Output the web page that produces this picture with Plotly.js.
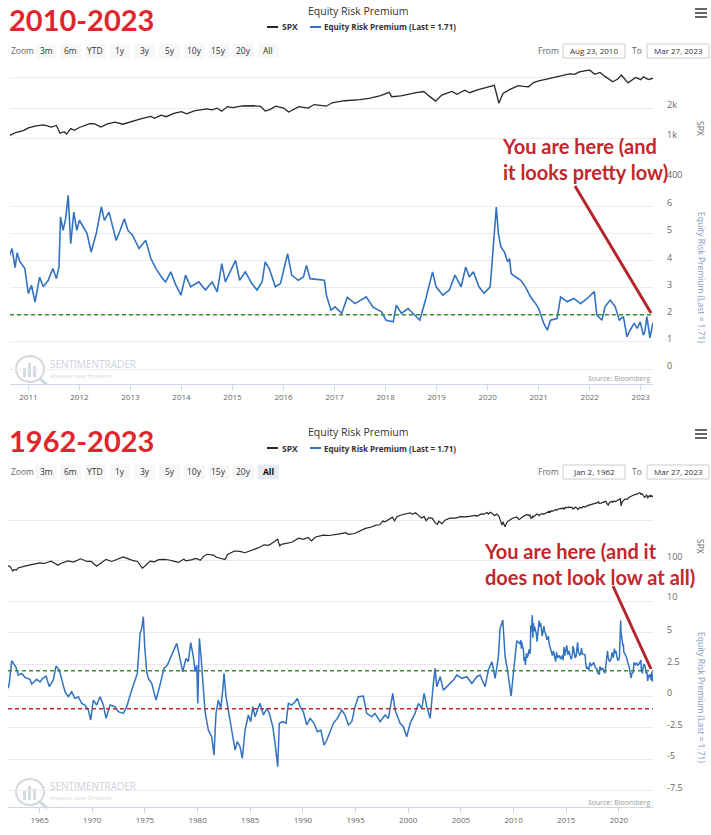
<!DOCTYPE html>
<html>
<head>
<meta charset="utf-8">
<script src="https://cdn.plot.ly/plotly-3.0.1.min.js"></script>
<style>
  html, body { margin: 0; padding: 0; background: #ffffff; }
  #chart { width: 711px; height: 835px; }
</style>
</head>
<body>
<div id="chart"></div>
<script>
// ---- Equity risk premium, decimal year -> value (%) ----
const erpYear = [
  1962.00, 1962.12, 1962.35, 1962.57, 1962.76, 1962.98, 1963.30, 1963.61, 1964.09, 1964.25,
  1964.73, 1965.04, 1965.30, 1965.61, 1965.92, 1966.30, 1966.56, 1966.87, 1967.10, 1967.41,
  1967.73, 1968.05, 1968.36, 1968.68, 1969.00, 1969.31, 1969.63, 1969.85, 1970.10, 1970.42,
  1970.74, 1971.05, 1971.31, 1971.69, 1972.16, 1972.47, 1972.95, 1973.27, 1973.75, 1974.06,
  1974.28, 1974.54, 1974.70, 1974.85, 1974.98, 1975.17, 1975.32, 1975.65, 1976.06, 1976.43,
  1976.81, 1977.13, 1977.55, 1978.02, 1978.33, 1978.59, 1978.90, 1979.12, 1979.35, 1979.60,
  1979.76, 1979.92, 1980.02, 1980.17, 1980.33, 1980.55, 1980.71, 1981.02, 1981.34, 1981.56,
  1981.75, 1981.97, 1982.20, 1982.39, 1982.51, 1982.70, 1982.92, 1983.24, 1983.56, 1983.78,
  1984.03, 1984.25, 1984.51, 1984.82, 1985.05, 1985.24, 1985.46, 1985.68, 1985.93, 1986.25,
  1986.57, 1986.81, 1987.14, 1987.36, 1987.61, 1987.76, 1988.09, 1988.40, 1988.62, 1988.94,
  1989.26, 1989.47, 1989.73, 1990.04, 1990.37, 1990.68, 1991.06, 1991.37, 1991.70, 1992.01,
  1992.27, 1992.58, 1992.89, 1993.27, 1993.69, 1994.00, 1994.32, 1994.64, 1994.95, 1995.27,
  1995.74, 1996.06, 1996.54, 1996.85, 1997.33, 1997.80, 1998.12, 1998.53, 1998.75, 1999.23,
  1999.54, 1999.86, 2000.18, 2000.65, 2000.97, 2001.29, 2001.51, 2001.76, 2002.08, 2002.39,
  2002.55, 2002.71, 2003.03, 2003.34, 2003.82, 2004.29, 2004.61, 2005.09, 2005.56, 2006.04,
  2006.51, 2006.82, 2007.30, 2007.61, 2007.94, 2008.25, 2008.56, 2008.72, 2008.98, 2009.20,
  2009.42, 2009.61, 2009.77, 2009.99, 2010.31, 2010.62,
  2010.68, 2010.74, 2010.78, 2010.83, 2010.93, 2011.00, 2011.06, 2011.13, 2011.22, 2011.29,
  2011.39, 2011.48, 2011.55, 2011.60, 2011.63, 2011.68, 2011.73, 2011.78, 2011.83, 2011.89,
  2011.95, 2012.00, 2012.07, 2012.15, 2012.23, 2012.33, 2012.43, 2012.49, 2012.58, 2012.65,
  2012.72, 2012.80, 2012.88, 2012.95, 2013.04, 2013.17, 2013.30, 2013.40, 2013.50, 2013.63,
  2013.69, 2013.79, 2013.89, 2013.99, 2014.08, 2014.18, 2014.34, 2014.47, 2014.60, 2014.70,
  2014.79, 2014.86, 2014.99, 2015.06, 2015.14, 2015.25, 2015.38, 2015.48, 2015.58, 2015.64,
  2015.72, 2015.84, 2015.94, 2016.02, 2016.08, 2016.16, 2016.29, 2016.39, 2016.45, 2016.52,
  2016.68, 2016.80, 2016.84, 2016.93, 2017.01, 2017.14, 2017.25, 2017.40, 2017.62, 2017.75,
  2017.92, 2018.01, 2018.15, 2018.21, 2018.31, 2018.44, 2018.57, 2018.67, 2018.79, 2018.92,
  2018.99, 2019.12, 2019.25, 2019.36, 2019.48, 2019.57, 2019.64, 2019.72, 2019.83, 2019.93,
  2020.05, 2020.09, 2020.14, 2020.17, 2020.21, 2020.26, 2020.33, 2020.39, 2020.43, 2020.46,
  2020.55, 2020.65, 2020.74, 2020.84, 2020.94, 2021.00, 2021.10, 2021.17, 2021.23, 2021.36,
  2021.43, 2021.56, 2021.69, 2021.82, 2021.95, 2022.09, 2022.14, 2022.24, 2022.30, 2022.40,
  2022.50, 2022.58, 2022.66, 2022.73, 2022.79, 2022.87, 2022.93, 2022.99, 2023.05, 2023.08,
  2023.12, 2023.18, 2023.24
];
const erpValue = [
  0.61, 0.99, 2.80, 2.45, 2.27, 1.66, 1.79, 1.48, 1.32, 0.95,
  1.32, 1.11, 1.40, 1.58, 0.74, 1.27, 2.37, 2.06, 1.40, 0.34,
  -0.05, 0.34, -0.19, -0.05, -0.58, -0.71, -1.11, -1.90, -0.32, -0.71,
  -0.05, -0.71, -1.77, -0.71, -0.84, -1.24, -1.37, -0.84, 0.47, 1.27,
  1.79, 4.96, 5.35, 6.28, 3.90, 1.92, 1.40, 0.99, -0.32, 0.87,
  2.19, 2.45, 3.24, 4.17, 2.98, 1.92, 2.98, 2.72, 4.22, 3.11,
  1.92, 2.45, -0.58, 4.56, 3.11, 0.21, -1.24, -2.69, -3.22, -4.67,
  -1.37, -0.32, -0.97, 0.47, 1.79, -0.05, -1.11, -2.95, -4.27, -3.61,
  -4.01, -4.93, -2.69, -1.50, -2.03, -0.84, -1.64, -1.11, -0.58, -1.50,
  -0.97, -1.37, -2.43, -3.75, -5.59, -2.16, -2.03, -2.16, -0.58, -0.71,
  -0.45, -0.19, -0.84, -1.24, -2.29, -1.77, -2.16, -2.82, -2.69, -3.88,
  -3.48, -2.82, -2.16, -1.77, -1.11, -1.50, -2.29, -2.03, -0.84, -0.05,
  0.00, -1.37, -1.64, -1.37, -2.03, -1.50, -1.77, 0.21, -1.11, -2.16,
  -2.43, -3.22, -2.16, -1.37, -0.58, -0.97, 0.21, -0.84, -1.77, 1.00,
  2.19, 0.74, 1.53, 0.47, 0.87, 1.27, 1.66, 1.40, 1.53, 1.00,
  1.53, 1.66, 0.74, 2.06, 2.72, 1.40, 3.11, 5.35, 6.01, 3.11,
  2.06, 0.74, 0.00, 1.85, 4.38, 4.12,
  4.44, 3.74, 4.28, 3.97, 3.70, 2.78, 3.09, 2.47, 3.39, 3.03,
  3.27, 3.70, 3.33, 3.76, 5.60, 5.11, 5.54, 6.40, 4.62, 5.78,
  5.11, 5.48, 5.23, 4.99, 4.31, 4.99, 5.97, 5.48, 5.78, 5.23,
  4.74, 5.11, 5.54, 5.11, 4.93, 4.44, 4.74, 4.07, 3.70, 3.33,
  3.21, 3.58, 3.09, 2.72, 3.46, 3.03, 3.21, 2.91, 3.21, 2.84,
  3.88, 3.21, 3.76, 4.00, 3.27, 3.58, 3.15, 2.91, 3.21, 3.95,
  3.70, 3.03, 3.15, 3.82, 4.25, 3.46, 3.27, 3.39, 3.82, 3.33,
  3.30, 3.27, 2.72, 2.17, 2.29, 2.05, 2.64, 2.41, 2.66, 2.29,
  2.11, 1.80, 1.74, 2.35, 2.05, 2.23, 1.99, 1.80, 2.60, 3.58,
  3.03, 2.72, 2.91, 3.46, 3.03, 3.76, 3.39, 3.58, 3.03, 2.79,
  3.03, 4.01, 5.05, 5.97, 4.99, 4.50, 4.31, 3.95, 4.07, 3.52,
  3.39, 3.27, 3.03, 2.66, 2.41, 2.23, 1.68, 1.43, 1.80, 1.86,
  2.66, 2.48, 2.60, 2.41, 2.60, 2.85, 1.99, 1.80, 2.29, 2.54,
  2.29, 1.80, 1.93, 1.19, 1.43, 1.68, 1.50, 1.74, 1.25, 1.37,
  1.93, 1.15, 1.71
];

// ---- S&P 500 index level, decimal year -> price ----
const spxYear = [
  1962.00, 1962.20, 1962.45, 1962.60, 1962.80, 1962.95, 1963.50, 1963.90, 1964.50, 1965.00,
  1965.45, 1965.90, 1966.10, 1966.75, 1967.00, 1967.70, 1968.20, 1968.90, 1969.50, 1969.90,
  1970.40, 1970.90, 1971.30, 1971.85, 1972.50, 1972.95, 1973.50, 1973.90, 1974.30, 1974.75,
  1974.95, 1975.50, 1975.90, 1976.30, 1976.80, 1977.30, 1977.90, 1978.20, 1978.70, 1978.85,
  1979.50, 1979.80, 1979.95, 1980.25, 1980.60, 1980.90, 1981.50, 1981.80, 1982.60, 1982.85,
  1983.50, 1984.00, 1984.50, 1984.90, 1985.50, 1985.95, 1986.30, 1986.70, 1987.00, 1987.60,
  1987.80, 1987.95, 1988.50, 1988.95, 1989.60, 1989.80, 1990.05, 1990.50, 1990.80, 1991.20,
  1991.95, 1992.50, 1992.95, 1993.50, 1994.05, 1994.30, 1994.90, 1995.50, 1995.95, 1996.50,
  1996.95, 1997.30, 1997.60, 1997.80, 1998.00, 1998.50, 1998.70, 1998.95, 1999.50, 1999.95,
  2000.20, 2000.40, 2000.70, 2000.95, 2001.25, 2001.50, 2001.70, 2001.95, 2002.30, 2002.55,
  2002.78, 2002.90, 2003.20, 2003.50, 2003.95, 2004.50, 2004.95, 2005.50, 2005.95, 2006.40,
  2006.50, 2006.95, 2007.20, 2007.50, 2007.60, 2007.78, 2007.95, 2008.20, 2008.40, 2008.60,
  2008.80, 2008.90, 2009.00, 2009.18, 2009.40, 2009.60, 2009.90, 2010.30, 2010.50, 2010.64,
  2010.75, 2010.90, 2011.00, 2011.15, 2011.30, 2011.45, 2011.55, 2011.62, 2011.70, 2011.75,
  2011.83, 2011.90, 2012.00, 2012.20, 2012.30, 2012.42, 2012.55, 2012.70, 2012.85, 2013.00,
  2013.20, 2013.40, 2013.47, 2013.60, 2013.70, 2013.85, 2014.00, 2014.10, 2014.25, 2014.50,
  2014.60, 2014.70, 2014.79, 2014.90, 2015.00, 2015.20, 2015.40, 2015.55, 2015.64, 2015.72,
  2015.85, 2016.00, 2016.10, 2016.30, 2016.48, 2016.60, 2016.84, 2016.95, 2017.20, 2017.50,
  2017.70, 2017.90, 2018.07, 2018.12, 2018.30, 2018.60, 2018.75, 2018.85, 2018.98, 2019.10,
  2019.30, 2019.40, 2019.55, 2019.65, 2019.80, 2020.00, 2020.13, 2020.22, 2020.30, 2020.45,
  2020.60, 2020.70, 2020.80, 2020.90, 2021.00, 2021.20, 2021.40, 2021.60, 2021.70, 2021.80,
  2021.95, 2022.00, 2022.10, 2022.20, 2022.30, 2022.45, 2022.55, 2022.62, 2022.75, 2022.90,
  2023.00, 2023.05, 2023.15, 2023.24
];
const spxValue = [
  71, 69, 53, 58, 56, 63, 69, 73, 82, 85,
  82, 92, 93, 74, 82, 95, 89, 107, 92, 92,
  70, 87, 104, 92, 108, 119, 105, 96, 92, 63,
  69, 94, 90, 102, 104, 100, 91, 87, 106, 95,
  102, 110, 107, 98, 125, 139, 132, 117, 103, 138,
  168, 165, 152, 164, 190, 211, 240, 232, 255, 330,
  225, 247, 270, 278, 350, 340, 330, 365, 300, 375,
  417, 410, 435, 450, 480, 440, 460, 550, 615, 670,
  745, 760, 940, 900, 980, 1180, 960, 1230, 1370, 1470,
  1510, 1380, 1520, 1320, 1120, 1230, 965, 1150, 1100, 850,
  777, 930, 810, 990, 1110, 1110, 1210, 1200, 1260, 1300,
  1240, 1420, 1400, 1540, 1410, 1565, 1470, 1280, 1410, 1260,
  900, 750, 900, 677, 900, 1000, 1110, 1200, 1030, 1070,
  1140, 1190, 1270, 1330, 1360, 1290, 1340, 1120, 1160, 1100,
  1250, 1200, 1280, 1400, 1390, 1290, 1390, 1450, 1380, 1460,
  1560, 1650, 1580, 1700, 1640, 1770, 1840, 1750, 1880, 1960,
  1920, 2000, 1860, 2070, 2020, 2100, 2110, 2080, 1870, 1920,
  2090, 2000, 1830, 2070, 2000, 2170, 2090, 2260, 2370, 2430,
  2520, 2670, 2870, 2600, 2650, 2850, 2930, 2650, 2350, 2700,
  2940, 2750, 3020, 2850, 3050, 3250, 3380, 2240, 2800, 3100,
  3350, 3300, 3270, 3600, 3750, 3950, 4200, 4400, 4350, 4600,
  4770, 4790, 4350, 4550, 4150, 3670, 3900, 4280, 3580, 4050,
  3850, 4100, 3860, 3977
];

// ---- reference levels (dashed) ----
const currentLevel = 2.0;   // green dashed
const lowLevel = -1.0;      // red dashed

// ---- axis ticks ----
const topYearTicks = [2011, 2012, 2013, 2014, 2015, 2016, 2017, 2018, 2019, 2020, 2021, 2022, 2023];
const bottomYearTicks = [1965, 1970, 1975, 1980, 1985, 1990, 1995, 2000, 2005, 2010, 2015, 2020];
const spxTopTicks = [400, 1000, 2000, 4000];
const spxTopLabels = ['400', '1k', '2k', ''];
const erpTopTicks = [0, 1, 2, 3, 4, 5, 6, 7];
const erpTopLabels = ['0', '1', '2', '3', '4', '5', '6', ''];
const spxBottomTicks = [10, 100, 1000, 10000];
const spxBottomLabels = ['10', '100', '', ''];
const erpBottomTicks = [-7.5, -5, -2.5, 0, 2.5, 5, 7.5];
const erpBottomLabels = ['-7.5', '-5', '-2.5', '0', '2.5', '5', ''];

// ---- texts ----
const rangeButtons = ['3m', '6m', 'YTD', '1y', '3y', '5y', '10y', '15y', '20y', 'All'];
const chartTitle = 'Equity Risk Premium';
const erpName = 'Equity Risk Premium (Last = 1.71)';
const panels = [
  { heading: '2010-2023', from: 'Aug 23, 2010', to: 'Mar 27, 2023', selected: -1,
    note: 'You are here (and<br>it looks pretty low)' },
  { heading: '1962-2023', from: 'Jan 2, 1962', to: 'Mar 27, 2023', selected: 9,
    note: 'You are here (and it<br>does not look low at all)' }
];

// ---- page geometry helpers (pixels -> paper) ----
const W = 711, H = 835;
const px = v => v / W;
const py = v => 1 - v / H;

const SPX_COLOR = '#262626';
const ERP_COLOR = '#3273c1';
const GRID = '#ebebeb';
const AXIS_LINE = '#ccd6eb';
const LABEL = '#666666';
const FONT = 'Open Sans, Noto Sans, sans-serif';

const traces = [
  { x: spxYear, y: spxValue, xaxis: 'x', yaxis: 'y', type: 'scatter', mode: 'lines',
    line: { color: SPX_COLOR, width: 1.3 }, name: 'SPX' },
  { x: erpYear, y: erpValue, xaxis: 'x', yaxis: 'y2', type: 'scatter', mode: 'lines',
    line: { color: ERP_COLOR, width: 1.6 }, name: erpName },
  { x: spxYear, y: spxValue, xaxis: 'x2', yaxis: 'y3', type: 'scatter', mode: 'lines',
    line: { color: SPX_COLOR, width: 1.2 }, name: 'SPX' },
  { x: erpYear, y: erpValue, xaxis: 'x2', yaxis: 'y4', type: 'scatter', mode: 'lines',
    line: { color: ERP_COLOR, width: 1.5 }, name: erpName }
];

function xAxis(domainPx, range, ticks, anchor) {
  return {
    domain: [px(domainPx[0]), px(domainPx[1])], range: range, anchor: anchor,
    tickmode: 'array', tickvals: ticks, ticktext: ticks.map(String),
    showgrid: false, zeroline: false, showline: true, linecolor: AXIS_LINE, linewidth: 1,
    ticks: 'outside', ticklen: 5, tickcolor: AXIS_LINE, tickwidth: 1,
    tickfont: { family: FONT, size: 8, color: LABEL }, fixedrange: true
  };
}
function yAxis(domainPx, range, ticks, labels, anchor, isLog) {
  return {
    domain: [py(domainPx[1]), py(domainPx[0])], range: range, anchor: anchor,
    type: isLog ? 'log' : 'linear', side: 'right',
    tickmode: 'array', tickvals: ticks, ticktext: labels,
    showgrid: true, gridcolor: GRID, gridwidth: 1, zeroline: false, showline: false,
    ticks: '', ticklabelstandoff: 13, ticklabelshift: -3,
    tickfont: { family: FONT, size: 9, color: LABEL }, fixedrange: true
  };
}

const shapes = [];
const annotations = [];

function text(t, x, y, opts) {
  annotations.push(Object.assign({
    xref: 'paper', yref: 'paper', x: px(x), y: py(y), text: t, showarrow: false,
    xanchor: 'center', yanchor: 'middle', borderpad: 0,
    font: { family: FONT, size: 9, color: LABEL }
  }, opts || {}));
}
function rect(x0, y0, x1, y1, fill, stroke) {
  shapes.push({ type: 'rect', xref: 'paper', yref: 'paper', x0: px(x0), x1: px(x1), y0: py(y1), y1: py(y0),
    fillcolor: fill, line: { color: stroke || 'rgba(0,0,0,0)', width: stroke ? 1 : 0 }, layer: 'below' });
}
function seg(x0, y0, x1, y1, color, width, dash) {
  shapes.push({ type: 'line', xref: 'paper', yref: 'paper', x0: px(x0), x1: px(x1), y0: py(y0), y1: py(y1),
    line: { color: color, width: width, dash: dash || 'solid' } });
}

// header block of each chart: heading, title, legend, range selector, date inputs, menu
panels.forEach((p, i) => {
  const o = i === 0 ? 0 : 421;  // vertical offset of the second chart
  text(p.heading, 8, 19 + o, { xanchor: 'left', font: { family: 'Lato, Open Sans, sans-serif', size: 29, color: '#e0262d', weight: 700 } });
  text(chartTitle, 358, 11 + o, { font: { family: FONT, size: 10.5, color: '#333333' } });
  seg(267, 27 + o, 278, 27 + o, SPX_COLOR, 2);
  text('SPX', 281, 27 + o, { xanchor: 'left', font: { family: FONT, size: 8.5, color: '#333333', weight: 700 } });
  seg(310, 27 + o, 321, 27 + o, ERP_COLOR, 2);
  text(erpName, 323, 27 + o, { xanchor: 'left', font: { family: FONT, size: 8, color: '#333333', weight: 700 } });
  text('Zoom', 10, 51 + o, { xanchor: 'left', font: { family: FONT, size: 8.5, color: LABEL } });
  rangeButtons.forEach((b, k) => {
    const cx = 46 + k * 24.7;
    const sel = k === p.selected;
    rect(cx - 10.5, 43.5 + o, cx + 10.5, 58.5 + o, sel ? '#e6ebf5' : '#f7f7f7');
    text(b, cx, 51 + o, { font: { family: FONT, size: 8.5, color: sel ? '#000000' : '#333333', weight: sel ? 700 : 400 } });
  });
  text('From', 548, 51 + o, { font: { family: FONT, size: 8.5, color: LABEL } });
  rect(563, 44 + o, 625, 58 + o, '#ffffff', '#cccccc');
  text(p.from, 594, 51 + o, { font: { family: FONT, size: 8, color: '#333333' } });
  text('To', 637, 51 + o, { font: { family: FONT, size: 8.5, color: LABEL } });
  rect(647, 44 + o, 709, 58 + o, '#ffffff', '#cccccc');
  text(p.to, 678, 51 + o, { font: { family: FONT, size: 8, color: '#333333' } });
  [9, 13, 17].forEach(yy => seg(695, yy + o, 707, yy + o, '#666666', 2));
});

// axis titles (read top to bottom)
text('SPX', 701, 128, { textangle: 90, font: { family: FONT, size: 8.5, color: LABEL } });
text(erpName, 702, 277, { textangle: 90, font: { family: FONT, size: 8.5, color: '#7f9cc2' } });
text('SPX', 701, 546, { textangle: 90, font: { family: FONT, size: 8.5, color: LABEL } });
text(erpName, 702, 697, { textangle: 90, font: { family: FONT, size: 8.5, color: '#7f9cc2' } });

// watermark and source credit
[[369, 364, 376, 378], [792, 786, 798, 802]].forEach(([cy, t1, t2, src]) => {
  shapes.push({ type: 'circle', xref: 'paper', yref: 'paper', x0: px(16), x1: px(44), y0: py(cy + 13), y1: py(cy - 13),
    line: { color: '#d3d8df', width: 2 }, layer: 'below' });
  rect(23, cy - 1, 26, cy + 8, '#d6dbe2');
  rect(28, cy - 6, 31, cy + 8, '#d6dbe2');
  rect(33, cy - 3, 36, cy + 8, '#d6dbe2');
  seg(39, cy + 9, 47, cy + 16, '#d3d8df', 3);
  text('SENTIMENTRADER', 49, t1, { xanchor: 'left', font: { family: FONT, size: 10, color: '#cdd2d9' } });
  text('Analysis over Emotion', 49, t2, { xanchor: 'left', font: { family: FONT, size: 6, color: '#d3d8df' } });
  text('Source: Bloomberg', 651, src, { xanchor: 'right', font: { family: FONT, size: 7, color: '#999999' } });
});

// reference levels
shapes.push({ type: 'line', xref: 'x domain', yref: 'y2', x0: 0, x1: 1, y0: currentLevel, y1: currentLevel,
  line: { color: '#3c8c34', width: 1.4, dash: '4px,3px' } });
shapes.push({ type: 'line', xref: 'x2 domain', yref: 'y4', x0: 0, x1: 1, y0: currentLevel, y1: currentLevel,
  line: { color: '#3c8c34', width: 1.4, dash: '4px,3px' } });
shapes.push({ type: 'line', xref: 'x2 domain', yref: 'y4', x0: 0, x1: 1, y0: lowLevel, y1: lowLevel,
  line: { color: '#c0282d', width: 1.4, dash: '4px,3px' } });

// callouts
const NOTE_FONT = { family: 'Lato, Open Sans, sans-serif', size: 20, color: '#c1272d', weight: 700 };
text(panels[0].note, 501, 159, { xanchor: 'left', align: 'left', font: NOTE_FONT });
text(panels[1].note, 483, 564, { xanchor: 'left', align: 'left', font: NOTE_FONT });
seg(575, 186, 651, 313, '#b5262c', 3);
seg(613, 586, 651, 669, '#b5262c', 3);

const layout = {
  width: W, height: H,
  margin: { l: 0, r: 0, t: 0, b: 0, pad: 0 },
  paper_bgcolor: '#ffffff', plot_bgcolor: 'rgba(0,0,0,0)',
  showlegend: false,
  font: { family: FONT },
  xaxis: xAxis([10, 653], [2010.64, 2023.24], topYearTicks, 'y2'),
  yaxis: yAxis([65, 178], [Math.log10(400), 3.732], spxTopTicks, spxTopLabels, 'x', true),
  yaxis2: yAxis([179, 384], [-0.55, 7.0], erpTopTicks, erpTopLabels, 'x', false),
  xaxis2: xAxis([8, 653], [1962.0, 2023.24], bottomYearTicks, 'y4'),
  yaxis3: yAxis([480, 600], [1, 4], spxBottomTicks, spxBottomLabels, 'x2', true),
  yaxis4: yAxis([600, 807], [-8.78, 7.6], erpBottomTicks, erpBottomLabels, 'x2', false),
  shapes: shapes,
  annotations: annotations
};

Plotly.newPlot('chart', traces, layout, { staticPlot: true, displayModeBar: false });
</script>
</body>
</html>
